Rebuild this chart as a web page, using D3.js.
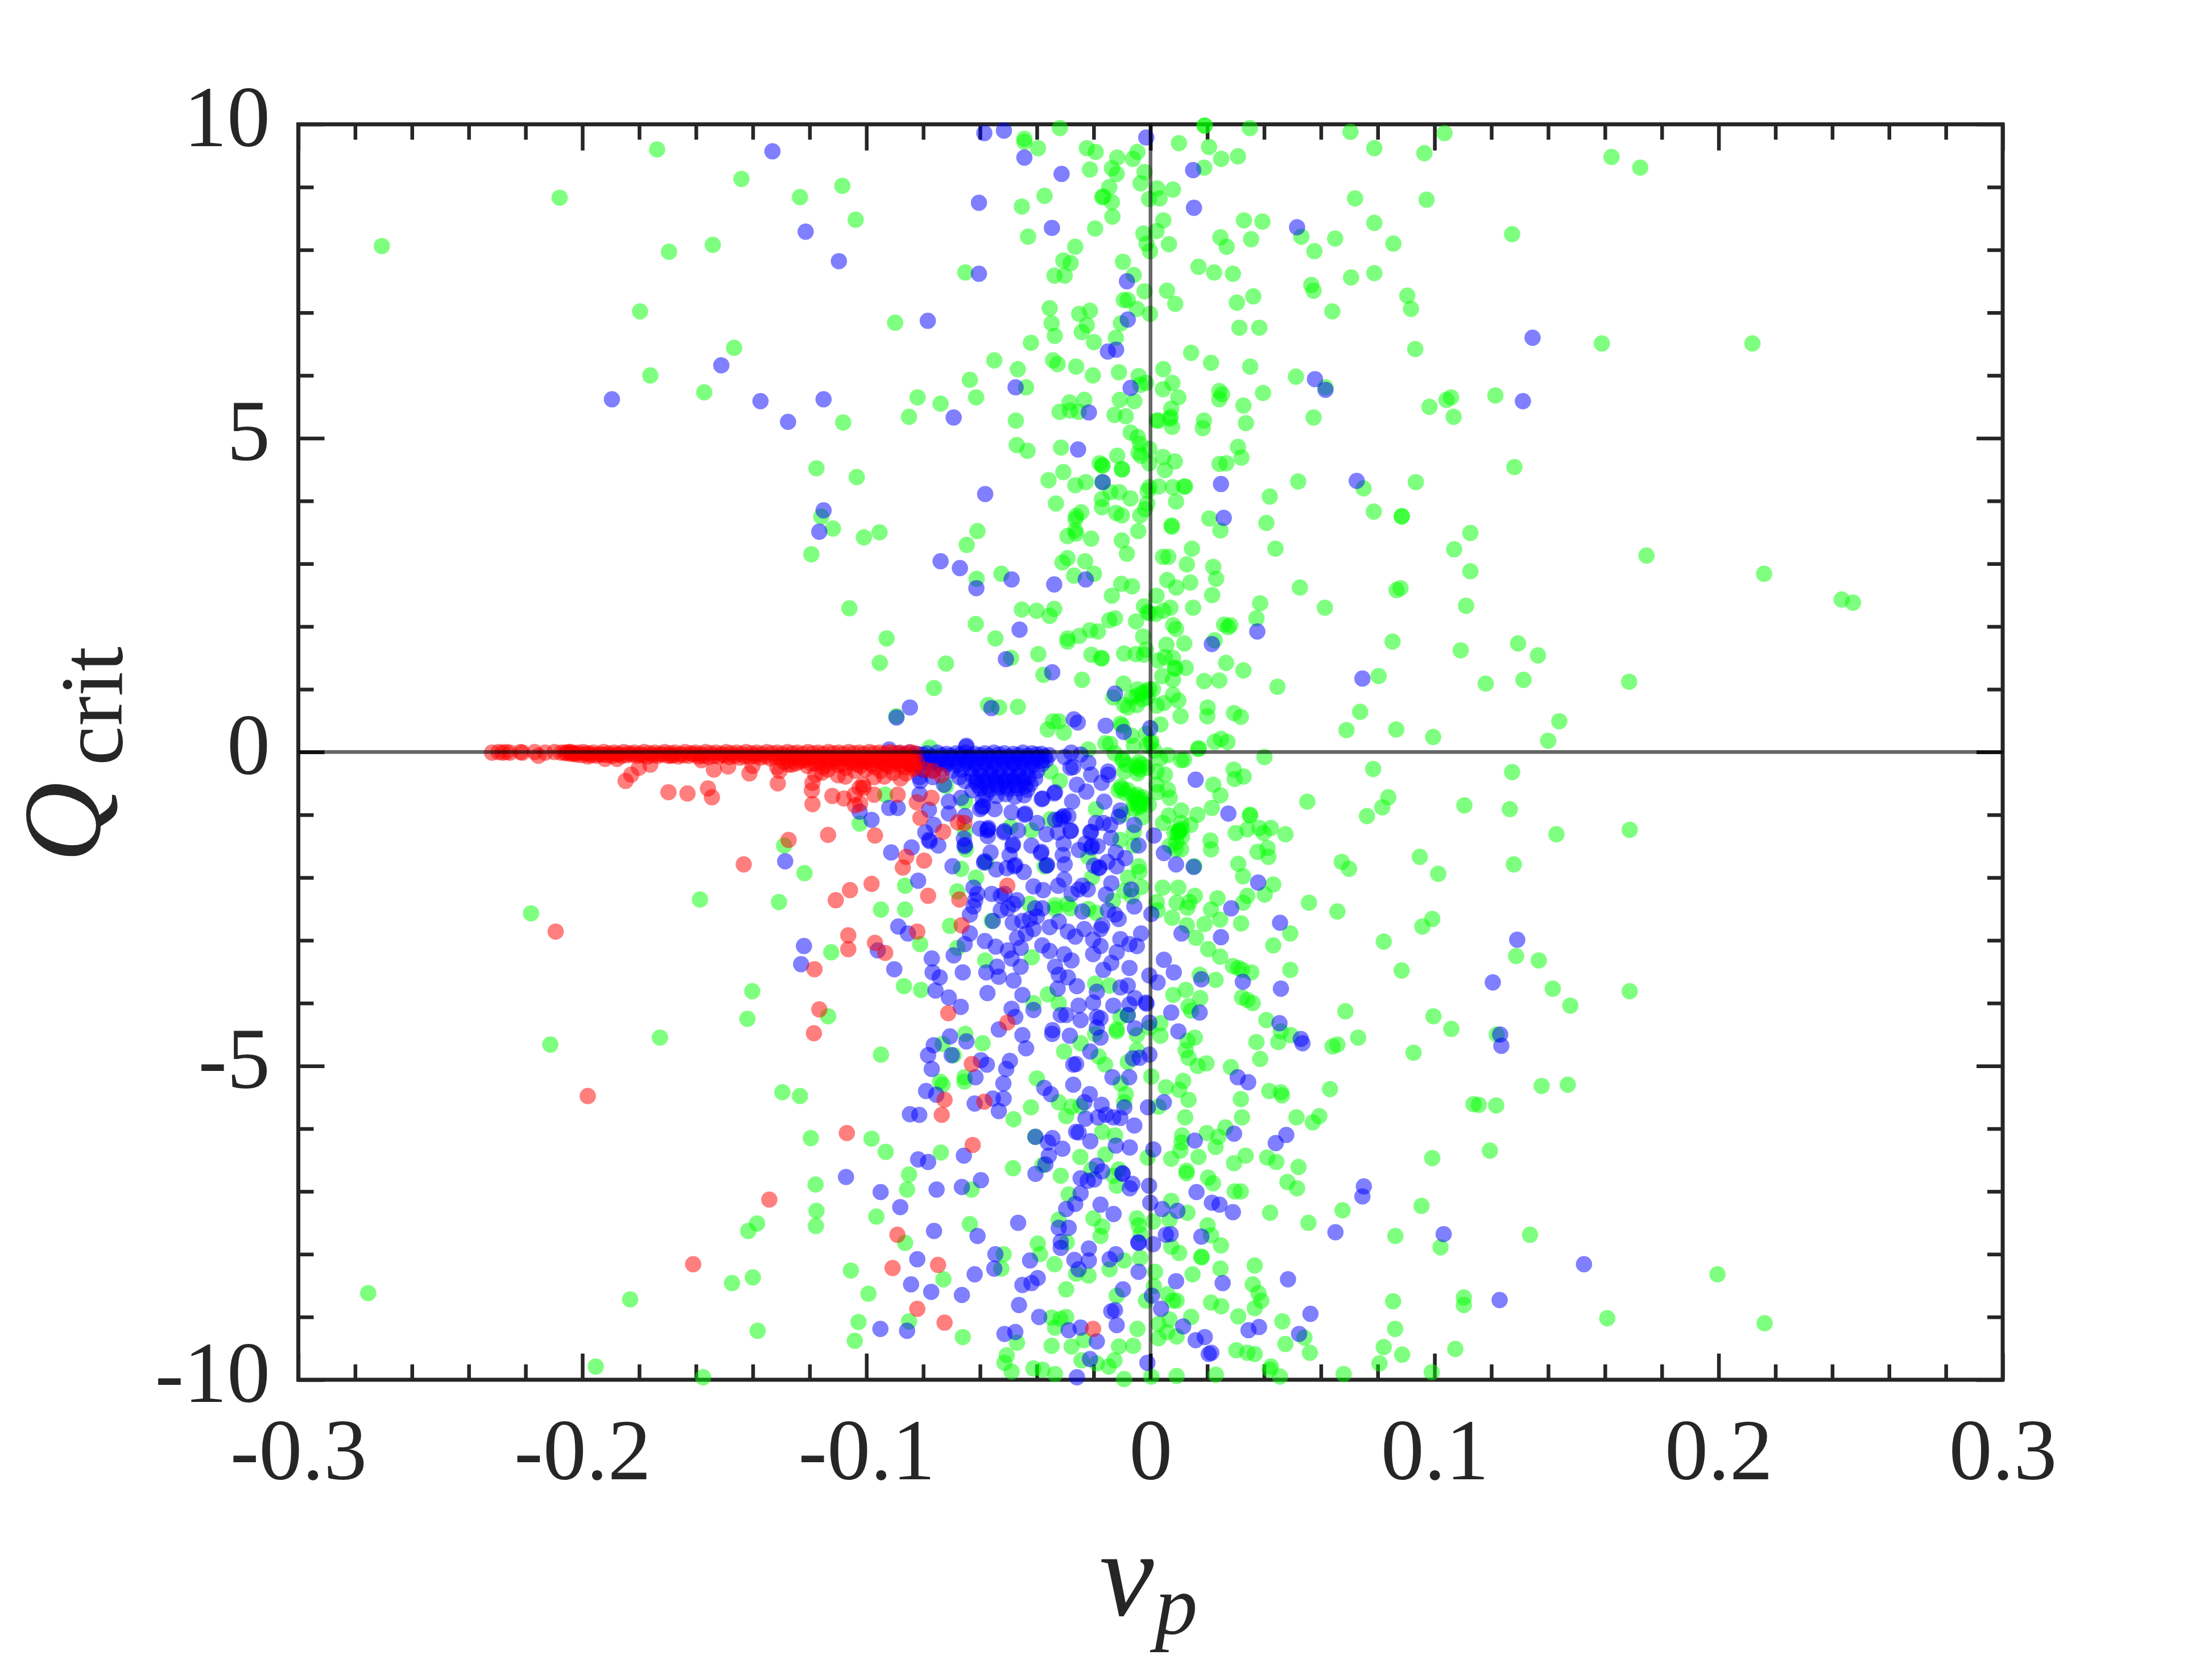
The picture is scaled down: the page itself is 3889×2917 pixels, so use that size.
<!DOCTYPE html>
<html>
<head>
<meta charset="utf-8">
<script src="https://cdn.jsdelivr.net/npm/d3@7"></script>
<style>
  html, body { margin: 0; padding: 0; background: #fff; }
</style>
</head>
<body>
<script>
// tick values and labels
const xMajor = [-0.3, -0.2, -0.1, 0, 0.1, 0.2, 0.3]
const xLabels = ['-0.3', '-0.2', '-0.1', '0', '0.1', '0.2', '0.3']
const xMinor = [-0.28, -0.26, -0.24, -0.22, -0.18, -0.16, -0.14, -0.12, -0.08, -0.06, -0.04, -0.02, 0.02, 0.04, 0.06, 0.08, 0.12, 0.14, 0.16, 0.18, 0.22, 0.24, 0.26, 0.28]
const yMajor = [-10, -5, 0, 5, 10]
const yLabels = ['-10', '-5', '0', '5', '10']
const yMinor = [-9, -8, -7, -6, -4, -3, -2, -1, 1, 2, 3, 4, 6, 7, 8, 9]

// points, [v_p, Q_crit]
const greenPoints = [
  [-0.1737,9.60],[-0.2080,8.83],[-0.2706,8.06],[-0.1440,9.13],[-0.1234,8.84],[-0.1085,9.02],[-0.1038,8.48],[-0.1695,7.97],[-0.1541,8.08],[-0.1797,7.02],
  [-0.0899,6.84],[-0.1466,6.44],[-0.1761,6.00],[-0.1571,5.73],[-0.1082,5.25],[-0.0850,5.34],[-0.1176,4.52],[-0.1034,4.38],[-0.1159,3.75],[-0.1118,3.56],
  [-0.1009,3.42],[-0.0954,3.50],[-0.1194,3.15],[-0.1060,2.29],[-0.0929,1.81],[-0.0953,1.42],[-0.0895,0.57],
  [-0.0319,9.94],[-0.0444,9.77],[-0.0444,9.72],[-0.0396,9.62],[-0.0224,9.62],[-0.0193,9.56],[-0.0117,9.47],[-0.0046,9.56],[-0.0062,9.45],[-0.0213,9.28],
  [-0.0136,9.30],[-0.0119,9.21],[-0.0021,9.24],[-0.0035,9.06],[-0.0145,9.00],[-0.0166,8.85],[-0.0170,8.84],[-0.0136,8.76],[-0.0005,8.81],[0.0032,8.82],
  [0.0023,8.98],[0.0079,8.96],[0.0100,9.70],[0.0190,9.98],[0.0191,9.98],[0.0206,9.64],[0.0249,9.45],[0.0308,9.49],[0.0189,9.31],[0.0350,9.94],[0.0704,9.88],
  [0.0788,9.62],[0.0964,9.54],[0.1035,9.86],[0.0720,8.82],[0.0972,8.80],[-0.0373,8.86],[-0.0453,8.69],[-0.0431,8.21],[-0.0195,8.34],[-0.0134,8.53],
  [0.0045,8.47],[0.0021,8.30],[-0.0025,8.26],[-0.0014,8.10],[-0.0002,7.98],[0.0065,8.09],[-0.0265,8.05],[-0.0307,7.83],[-0.0281,7.79],[-0.0338,7.59],
  [-0.0302,7.59],[-0.0652,7.64],[-0.0097,7.81],[-0.0059,7.60],[-0.0021,7.34],[0.0058,7.35],[0.0087,7.14],[-0.0094,7.20],[-0.0080,7.20],[-0.0048,7.06],
  [-0.0002,6.98],[-0.0104,6.83],[-0.0355,7.07],[-0.0348,6.83],[-0.0251,6.98],[-0.0213,7.03],[-0.0224,6.80],[-0.0242,6.69],[-0.0337,6.63],[-0.0122,6.60],
  [-0.0199,6.53],[-0.0421,6.52],[-0.0550,6.24],[-0.0467,6.10],[-0.0343,6.24],[-0.0327,6.18],[-0.0262,6.14],[-0.0203,6.00],[-0.0111,6.05],[-0.0042,5.99],
  [-0.0016,5.88],[-0.0036,5.85],[-0.0636,5.93],[-0.0438,5.81],[-0.0820,5.65],[-0.0739,5.55],[-0.0614,5.65],[-0.0285,5.57],[-0.0233,5.61],
  [-0.0320,5.42],[-0.0283,5.44],[-0.0253,5.42],[-0.0108,5.61],[-0.0057,5.59],[-0.0127,5.37],[-0.0087,5.35],[-0.0474,5.28],[-0.0070,5.09],[-0.0045,5.02],
  [-0.0037,4.91],[-0.0004,4.83],[-0.0042,4.77],[-0.0034,4.72],[-0.0004,4.60],[-0.0471,4.89],[-0.0433,4.80],[-0.0315,4.85],[-0.0117,4.72],[0.0044,4.70],
  [0.0086,4.63],[0.0051,4.49],[-0.0179,4.60],[-0.0170,4.57],[-0.0169,4.56],[-0.0101,4.51],[-0.0100,4.50],[-0.0307,4.46],[-0.0359,4.33],[-0.0265,4.25],
  [-0.0228,4.30],[-0.0170,4.30],[-0.0110,4.14],[-0.0141,4.14],[-0.0071,4.04],[-0.0004,4.22],[-0.0010,4.16],[0.0029,4.23],[0.0078,4.22],[0.0118,4.23],
  [0.0122,4.23],[0.0090,3.99],[-0.0012,3.96],[-0.0019,3.87],[-0.0036,3.77],[-0.0171,4.03],[-0.0171,3.90],[-0.0333,3.96],[-0.0244,3.82],[-0.0262,3.76],
  [-0.0264,3.71],[-0.0121,3.81],[-0.0101,3.77],[-0.0043,3.52],[0.0074,3.61],[0.0075,3.59],[-0.0265,3.53],[-0.0262,3.48],[-0.0292,3.44],[-0.0209,3.40],
  [-0.0609,3.52],[-0.0647,3.30],[-0.0101,3.37],[-0.0083,3.16],[0.0146,3.24],[0.0044,3.11],[0.0063,3.11],[-0.0292,3.09],[-0.0310,3.02],[-0.0230,3.04],
  [-0.0269,2.81],[-0.0199,2.84],[0.0128,2.99],[0.0221,2.95],[0.0231,2.76],[-0.0612,2.76],[-0.0525,2.84],[-0.0103,2.68],[-0.0065,2.64],[0.0059,2.74],
  [0.0091,2.62],[0.0140,2.70],[-0.0136,2.49],[0.0217,2.50],[0.0021,2.49],[-0.0453,2.27],[-0.0401,2.25],[-0.0355,2.17],[-0.0339,2.28],[-0.0023,2.32],
  [0.0070,2.30],[0.0150,2.30],[-0.0004,2.21],[-0.0010,2.23],[0.0019,2.20],[0.0045,2.25],[-0.0145,2.10],[-0.0125,2.13],[-0.0051,2.08],[-0.0615,2.04],
  [-0.0546,1.81],[-0.0213,1.94],[-0.0185,1.92],[-0.0251,1.85],[-0.0292,1.81],[-0.0292,1.76],[0.0080,2.02],[0.0090,1.96],[-0.0026,1.84],[0.0119,1.73],
  [0.0056,1.71],[-0.0491,1.50],[-0.0395,1.56],[-0.0720,1.41],[-0.0208,1.55],[-0.0173,1.50],[-0.0172,1.49],[-0.0093,1.57],[-0.0052,1.56],[-0.0016,1.63],
  [-0.0023,1.55],[0.0027,1.46],[0.0051,1.51],[0.0079,1.50],[0.0086,1.34],[0.0087,1.33],[0.0124,1.34],[0.0041,1.21],[0.0079,1.15],[0.0266,1.42],[0.0327,1.30],
  [0.0189,1.13],[0.0242,1.14],[0.0447,1.04],[-0.0377,1.23],[-0.0241,1.15],[-0.0762,1.02],[-0.0095,1.09],[-0.0045,1.00],[-0.0067,0.87],[-0.0048,0.90],
  [-0.0029,0.94],[-0.0016,0.97],[-0.0004,1.00],[-0.0010,0.87],[0.0009,1.00],[-0.0029,0.84],[-0.0048,0.75],[-0.0080,0.71],[-0.0093,0.75],[-0.0131,0.87],
  [0.0047,0.78],[0.0079,0.91],[0.0098,0.82],[0.0022,0.74],[0.0035,0.44],[0.0106,0.57],[0.0201,0.71],[0.0200,0.57],[0.0294,0.62],[0.0318,0.56],
  [-0.0572,0.75],[-0.0533,0.71],[-0.0467,0.72],[-0.0343,0.49],[-0.0323,0.49],[-0.0362,0.36],[-0.0305,0.31],[0.0738,0.64],[0.0690,0.35],[0.0865,0.36],
  [0.0995,0.24],[-0.0106,0.45],[-0.0100,0.42],[-0.0067,0.26],[-0.0016,0.29],[0.0003,0.17],[0.0248,0.21],[0.0271,0.16],[0.0226,0.16],[0.0803,1.21],
  [0.0329,8.47],[0.0394,8.45],[0.0246,8.20],[0.0268,8.05],[0.0354,8.17],[0.0169,7.73],[0.0224,7.64],[0.0290,7.62],[0.0304,7.16],[0.0362,7.26],[0.0313,6.76],
  [0.0383,6.76],[0.0531,8.21],[0.0650,8.18],[0.0577,7.98],[0.0788,8.43],[0.0855,8.10],[0.0706,7.56],[0.0788,7.63],[0.0566,7.44],[0.0574,7.35],[0.0640,7.02],
  [0.0904,7.27],[0.0917,7.06],[0.0932,6.42],[0.0143,6.36],[0.0213,6.20],[0.0351,6.14],[0.0045,6.10],[0.0077,5.88],[0.0044,5.78],[0.0098,5.65],[0.0242,5.75],
  [0.0252,5.70],[0.0242,5.62],[0.0396,5.72],[0.0327,5.52],[0.0512,5.98],[0.0616,5.81],[0.0073,5.47],[0.0071,5.34],[0.0076,5.18],[0.0068,5.31],[0.0022,5.28],
  [0.0028,5.28],[0.0188,5.28],[0.0184,5.16],[0.0336,5.24],[0.0574,5.33],[0.0982,5.50],[0.1042,5.61],[0.1058,5.65],[0.1067,5.34],[0.0308,4.86],[0.0320,4.69],
  [0.0243,4.59],[0.0267,4.60],[0.0520,4.31],[0.0934,4.30],[0.0750,4.20],[0.0420,4.07],[0.0786,3.83],[0.0884,3.75],[0.0885,3.76],[0.0408,3.65],[0.0207,3.72],
  [0.0246,3.53],[0.0440,3.24],[0.1126,3.49],[0.1069,3.23],[0.1126,2.88],[0.0526,2.62],[0.0880,2.61],[0.0866,2.58],[0.0614,2.30],[0.1111,2.33],[0.0386,2.37],
  [0.0373,2.13],[0.0259,2.03],[0.0281,2.02],[0.0273,1.99],[0.0226,1.78],[0.0852,1.76],[0.1092,1.62],
  [0.1623,9.48],[0.1724,9.31],[0.1273,8.25],[0.1589,6.51],[0.2119,6.51],[0.1214,5.68],[0.1281,4.54],[0.1746,3.13],[0.2160,2.84],[0.2433,2.43],[0.2473,2.38],
  [0.1294,1.73],[0.1364,1.54],[0.1180,1.09],[0.1313,1.15],[0.1685,1.12],[0.1439,0.49],[0.1400,0.18],
  // far right, below zero
  [0.1273,-0.32],[0.1265,-0.91],[0.1429,-1.31],[0.1687,-1.24],[0.1279,-1.79],[0.1287,-3.25],[0.1367,-3.32],[0.1416,-3.77],[0.1478,-4.04],[0.1687,-3.81],[0.1219,-4.50],
  [0.1377,-5.32],[0.1469,-5.30],[0.1217,-5.63],[0.1156,-5.62],[0.1195,-6.35],[0.1336,-7.69],[0.1996,-8.32],[0.1608,-9.02],[0.2162,-9.10],
  // below the zero line, left part
  [-0.1290,-1.49],[-0.1218,-1.93],[-0.1586,-2.35],[-0.1308,-2.39],[-0.2181,-2.57],[-0.0949,-2.51],[-0.0864,-2.51],[-0.0864,-2.13],[-0.1124,-3.19],[-0.1402,-3.81],
  [-0.1419,-4.25],[-0.1135,-4.21],[-0.1727,-4.55],[-0.2113,-4.66],[-0.0949,-4.82],[-0.0868,-3.73],[-0.1296,-5.42],[-0.1234,-5.48],[-0.1196,-6.15],[-0.0982,-6.16],
  [-0.0932,-6.37],[-0.1179,-6.89],[-0.0850,-6.73],[-0.0857,-6.97],[-0.1176,-7.31],[-0.0965,-7.40],[-0.1178,-7.55],[-0.1385,-7.51],[-0.1416,-7.63],[-0.0864,-7.82],
  [-0.1400,-8.37],[-0.1473,-8.46],[-0.1055,-8.26],[-0.2754,-8.62],[-0.1832,-8.72],[-0.0993,-8.63],[-0.1028,-9.08],[-0.1383,-9.22],[-0.1041,-9.38],[-0.0850,-9.07],
  [-0.1953,-9.79],[-0.1575,-9.96],[-0.0934,-0.68],[-0.1024,-1.14],
  // below the zero line, right part
  [0.0401,-0.08],[0.0170,0.06],[0.0784,-0.27],[0.0293,-0.28],[0.0328,-0.39],[0.0296,-0.43],[0.0221,-0.52],[0.0246,-0.69],[0.0216,-0.89],[0.0552,-0.79],[0.0837,-0.72],
  [0.0816,-0.88],[0.0762,-1.02],[0.1105,-0.85],[0.0350,-1.00],[0.0351,-1.01],[0.0165,-1.00],[0.0300,-1.29],[0.0341,-1.23],[0.0383,-1.21],[0.0398,-1.29],[0.0424,-1.21],
  [0.0475,-1.31],[0.0412,-1.53],[0.0377,-1.59],[0.0415,-1.67],[0.0211,-1.41],[0.0213,-1.55],[0.0309,-1.78],[0.0326,-1.98],[0.0673,-1.75],[0.0699,-1.86],[0.0948,-1.67],
  [0.1013,-1.94],[0.0432,-2.11],[0.0402,-2.27],[0.0341,-2.29],[0.0326,-2.40],[0.0236,-2.33],[0.0213,-2.51],[0.0245,-2.67],[0.0319,-2.73],[0.0558,-2.40],[0.0658,-2.54],
  [0.0957,-2.78],[0.0992,-2.66],[0.0492,-2.89],[0.0432,-3.08],[0.0821,-3.02],[0.0203,-3.14],[0.0245,-3.26],[0.0160,-2.96],[0.0190,-2.74],[0.0128,-2.76],[0.0076,-2.64],
  [0.0043,-2.16],[0.0098,-2.16],[0.0156,-2.29],[0.0137,-2.39],[0.0130,-2.48],[0.0092,-2.40],[0.0022,-2.39],[0.0025,-2.52],[0.0290,-3.41],[0.0309,-3.44],[0.0322,-3.47],
  [0.0355,-3.51],[0.0492,-3.47],[0.0884,-3.48],[0.0229,-3.63],[0.0173,-3.55],[0.0322,-3.91],[0.0341,-3.95],[0.0360,-4.00],[0.0175,-3.92],[0.0124,-3.79],[0.0080,-3.87],
  [0.0134,-4.05],[0.0143,-4.12],[0.0408,-4.27],[0.0459,-4.45],[0.0494,-4.51],[0.0450,-4.62],[0.0373,-4.62],[0.0686,-4.13],[0.0996,-4.21],[0.1059,-4.41],[0.0731,-4.55],
  [0.0641,-4.69],[0.0658,-4.66],[0.0926,-4.79],[0.0386,-4.89],[0.0156,-4.55],[0.0130,-4.60],[0.0124,-4.75],[0.0134,-4.87],[0.0197,-4.96],[0.0166,-5.00],[0.0283,-5.02],
  [0.0003,-5.17],[0.0115,-5.24],[0.0054,-5.34],[0.0101,-5.38],[0.0134,-5.54],[0.0318,-5.53],[0.0418,-5.40],[0.0459,-5.42],[0.0463,-5.47],[0.0632,-5.37],[0.0028,-5.65],
  [0.0122,-5.82],[0.0322,-5.82],[0.0514,-5.82],[0.0571,-5.90],[0.0594,-5.80],[0.1137,-5.61],[0.0264,-5.98],[0.0198,-6.07],[0.0239,-6.13],[0.0229,-6.29],[0.0111,-6.11],
  [0.0109,-6.22],[0.0105,-6.35],[0.0073,-6.48],[0.0169,-6.45],[0.0335,-6.43],[0.0294,-6.55],[0.0411,-6.46],[0.0443,-6.53],[0.0521,-6.61],[0.0992,-6.47],[0.0127,-6.67],
  [0.0127,-6.71],[0.0203,-6.78],[0.0220,-6.87],[0.0482,-6.85],[0.0516,-6.95],[0.0296,-7.00],[0.0318,-7.00],[0.0421,-7.34],[0.0676,-7.30],[0.0954,-7.23],[0.0556,-7.50],
  [0.0073,-7.15],[0.0130,-7.34],[0.0201,-7.54],[0.0213,-7.70],[0.0862,-7.71],[0.1021,-7.89],[0.0248,-7.86],[0.0073,-7.88],[0.0101,-7.98],[0.0179,-8.04],[0.0180,-8.05],
  [0.0367,-8.18],[0.0246,-8.23],[0.0148,-8.32],[0.0360,-8.48],[0.0380,-8.62],[0.0390,-8.74],[0.0367,-8.86],[0.0213,-8.77],[0.0249,-8.83],[0.0854,-8.75],[0.1103,-8.69],
  [0.1103,-8.81],[0.0309,-8.99],[0.0464,-9.07],[0.0861,-9.19],[0.0143,-9.00],[0.0092,-8.74],[0.0079,-8.74],[0.0060,-8.64],[0.0028,-9.11],[0.0067,-9.04],[0.0058,-9.24],
  [0.0092,-9.31],[0.0028,-9.34],[0.0475,-9.43],[0.0542,-9.33],[0.0561,-9.57],[0.0821,-9.48],[0.0886,-9.60],[0.1073,-9.51],[0.0302,-9.53],[0.0341,-9.57],[0.0367,-9.59],
  [0.0424,-9.79],[0.0420,-9.84],[0.0806,-9.74],[0.0456,-9.95],[0.0230,-9.92],[0.0092,-9.94],[0.0003,-9.95],[0.0680,-9.91],[0.0990,-9.88],
  // under and around the blue cloud
  [-0.0046,-9.19],[-0.0061,-9.46],[-0.0111,-9.47],[-0.0127,-9.69],[-0.0147,-9.79],[-0.0093,-9.99],[-0.0278,-9.47],[-0.0234,-9.37],[-0.0348,-9.46],[-0.0336,-9.17],
  [-0.0297,-9.00],[-0.0317,-9.03],[-0.0348,-9.01],[-0.0243,-9.69],[-0.0189,-9.74],[-0.0336,-9.91],[-0.0412,-9.82],[-0.0380,-9.84],[-0.0489,-9.87],[-0.0514,-9.73],
  [-0.0506,-9.61],[-0.0470,-9.41],[-0.0661,-9.32],[-0.0297,-8.56],[-0.0119,-8.66],[-0.0016,-8.74],[0.0016,-8.28],[0.0012,-8.51],[-0.0036,-8.06],[-0.0093,-8.10],
  [-0.0144,-8.24],[-0.0218,-8.34],[-0.0262,-8.31],[-0.0338,-8.16],[-0.0389,-8.00],[-0.0397,-7.83],[-0.0517,-8.00],[-0.0525,-8.23],[-0.0729,-8.40],
  [-0.0323,-7.45],[-0.0295,-7.81],[-0.0201,-7.43],[-0.0170,-7.56],[-0.0176,-7.71],[-0.0048,-7.43],[-0.0042,-7.54],[-0.0035,-7.68],[0.0009,-7.48],[0.0067,-7.45],
  [-0.0636,-7.52],[-0.0630,-6.97],[-0.0484,-6.63],[-0.0316,-6.75],[-0.0247,-6.45],[-0.0159,-6.41],[-0.0738,-6.38],[-0.0406,-6.13],
  [-0.0380,-6.58],[-0.0288,-7.05],[-0.0208,-6.65],[-0.0131,-6.75],[-0.0112,-6.65],[-0.0119,-6.91],[-0.0010,-6.46],[-0.0482,-5.85],[-0.0421,-5.66],[-0.0400,-5.20],
  [-0.0323,-5.58],[-0.0297,-5.80],[-0.0278,-5.65],[-0.0246,-5.64],[-0.0170,-6.05],[-0.0125,-6.11],[-0.0087,-5.45],[-0.0093,-5.58],[-0.0105,-5.28],[-0.0655,-5.18],
  [-0.0655,-5.25],[-0.0732,-5.30],[-0.0741,-5.25],[-0.0591,-4.64],[-0.0652,-4.49],[-0.0732,-4.65],[-0.0693,-4.83],[-0.0304,-4.77],[-0.0246,-4.64],[-0.0183,-4.85],
  [-0.0160,-4.98],[-0.0080,-4.94],[-0.0048,-4.75],[-0.0119,-4.45],[-0.0048,-4.51],[-0.0195,-4.49],[0.0035,-4.52],[-0.0412,-4.00],[-0.0808,-3.79],[-0.0361,-3.86],
  [-0.0323,-4.00],[-0.0195,-3.69],[-0.0144,-3.72],[-0.0106,-4.22],[-0.0080,-4.19],[-0.0119,-4.42],[-0.0004,-4.39],[0.0035,-4.32],[-0.0614,-2.00],
  [-0.0559,-2.69],[-0.0706,-2.77],[-0.0680,-3.12],[-0.0811,-3.06],[-0.0582,-3.32],[-0.0418,-3.27],
  // dense green around the origin
  [-0.0046,-0.25],[-0.0042,-0.16],[-0.0099,-0.13],[-0.0159,0.14],[-0.0142,0.13],[-0.0059,0.10],[-0.0012,0.11],[0.0001,0.14],[0.0014,0.02],[-0.0219,0.04],[-0.0126,-0.02],
  [0.0061,-0.05],[0.0034,-0.10],[0.0108,-0.13],[0.0118,-0.12],[0.0168,0.05],[-0.0092,-0.31],[-0.0012,-0.25],[0.0021,-0.31],[0.0051,-0.36],
  [0.0021,-0.52],[0.0061,-0.60],[0.0024,-0.64],[0.0068,-0.73],[-0.0112,-0.61],[-0.0099,-0.58],[-0.0079,-0.61],[-0.0059,-0.70],[-0.0046,-0.79],[-0.0032,-0.76],
  [-0.0026,-0.82],[-0.0042,-0.88],[-0.0059,-0.82],[-0.0006,-0.84],[-0.0192,-0.91],[-0.0099,-1.00],[-0.0029,-1.04],[0.0108,-0.93],[0.0064,-1.01],[0.0044,-1.13],
  [0.0141,-1.16],[0.0108,-1.13],[0.0101,-1.26],[0.0102,-1.27],[0.0100,-1.25],[0.0084,-1.28],[0.0111,-1.35],
  [0.0091,-1.44],[0.0068,-1.49],[0.0108,-1.55],[0.0088,-1.55],[-0.0352,-1.07],[-0.0352,-0.31],[-0.0319,-0.46],[-0.0493,-1.19],[-0.0419,-1.25],
  [-0.0336,-2.44],[-0.0336,-2.50],[-0.0282,-2.49],[-0.0219,-2.50],[-0.0192,-2.56],[-0.0206,-2.00],[-0.0032,-2.15],
  [-0.0059,-1.28],[-0.0059,-1.49],[-0.0106,-1.40],[-0.0219,-1.67],[-0.0042,-1.82],[-0.0039,-1.91],[-0.0079,-2.00],[-0.0092,-2.21],[-0.0066,-2.30],
  [-0.0132,-2.37],[-0.0293,-2.42],[-0.0426,-2.42],[-0.0373,-1.82],[-0.0579,-1.76],[0.0154,-1.82],[-0.0777,0.07],
  [-0.0667,-1.86],[-0.0653,-0.79],[-0.0720,-0.54],[-0.0653,-1.26],[-0.0650,-1.55],[-0.0680,-2.22],
  [-0.0050,-0.22],[-0.0038,-0.28],[-0.0045,-0.34],[-0.0030,-0.20],[-0.0052,-0.74],[-0.0036,-0.85],[-0.0048,-0.68],[-0.0028,-0.72],[-0.0060,-0.90],[-0.0105,-0.55],
  [-0.0090,-0.65],[-0.0098,-0.10],[-0.0085,-0.20],[0.0095,-1.30],[0.0110,-1.22]
]

const bluePoints = [
  [-0.1331,9.57],[-0.1214,8.29],[-0.1097,7.82],[-0.1511,6.16],[-0.1896,5.62],[-0.1373,5.59],[-0.1151,5.62],[-0.1276,5.26],[-0.1151,3.85],[-0.1166,3.51],[-0.0894,0.55],[-0.0847,0.71],
  [-0.0585,9.86],[-0.0516,9.90],[-0.0444,9.47],[-0.0313,9.21],[-0.0015,9.79],[0.0150,9.27],[-0.0604,8.75],[0.0153,8.67],[-0.0347,8.35],[-0.0604,7.62],[0.0516,8.36],
  [-0.0083,7.50],[-0.0080,6.89],[-0.0784,6.87],[-0.0150,6.38],[-0.0121,6.41],[-0.0475,5.81],[-0.0070,5.80],[0.0579,5.94],[0.0616,5.77],[-0.0693,5.33],[-0.0217,5.41],
  [-0.0255,4.82],[-0.0168,4.30],[-0.0582,4.11],[0.0248,4.27],[0.0726,4.32],[0.0258,3.73],[-0.0739,3.04],[-0.0671,2.93],[-0.0489,2.75],[-0.0613,2.61],[-0.0339,2.67],
  [-0.0228,2.75],[-0.0461,1.95],[-0.0509,1.48],[-0.0346,1.27],[0.0376,1.92],[0.0216,1.72],[0.0746,1.17],[-0.0125,0.93],[-0.0560,0.70],[-0.0270,0.52],
  [-0.0256,0.47],[-0.0158,0.42],[-0.0094,0.32],[-0.0001,0.38],[-0.0648,0.10],[0.1345,6.60],[0.1311,5.59],
  [0.1291,-2.99],[0.1205,-3.67],[0.1231,-4.50],[0.1235,-4.68],[0.1526,-8.16],[0.1229,-8.73],
  [-0.1286,-1.74],[-0.0888,-2.78],[-0.0854,-2.89],[-0.1220,-3.09],
  [-0.0960,-3.16],[-0.1230,-3.38],[-0.0902,-3.46],[-0.0847,-5.77],[-0.1072,-6.77],[-0.0950,-7.01],[-0.0881,-7.25],[-0.0951,-9.19],[-0.0857,-9.22],[-0.0843,-8.48],
  [0.0159,-0.44],[0.0274,-0.98],[0.0012,-1.33],[-0.0042,-1.49],[0.0047,-1.61],[0.0090,-1.79],[0.0152,-1.83],[0.0379,-2.08],[0.0284,-2.49],[0.0456,-2.72],[0.0248,-2.95],
  [0.0109,-2.89],[0.0003,-2.58],[0.0047,-3.31],[0.0082,-3.51],[0.0179,-3.62],[0.0325,-3.66],[0.0459,-3.77],[0.0173,-4.15],[0.0073,-4.15],[-0.0014,-4.01],[-0.0004,-3.56],
  [0.0025,-3.67],[0.0454,-4.32],[0.0529,-4.57],[0.0535,-4.64],[0.0098,-4.45],[-0.0004,-4.31],[-0.0004,-4.82],[-0.0038,-4.87],[-0.0062,-4.88],[-0.0075,-5.18],[-0.0134,-5.18],
  [0.0307,-5.18],[0.0344,-5.26],[0.0047,-5.58],[-0.0009,-5.66],[-0.0057,-5.95],[-0.0092,-5.66],[-0.0106,-5.83],[-0.0131,-5.82],[-0.0157,-5.78],[-0.0172,-5.62],[-0.0185,-5.82],
  [-0.0214,-5.45],[-0.0233,-5.58],[-0.0229,-5.84],[-0.0272,-5.30],[-0.0272,-4.98],[-0.0262,-4.97],[-0.0212,-4.77],[-0.0176,-4.55],[-0.0346,-4.49],[-0.0345,-4.43],[-0.0284,-4.52],
  [-0.0451,-4.51],[-0.0438,-4.72],[-0.0534,-4.42],[-0.0374,-5.35],[-0.0351,-5.45],[-0.0253,-6.06],[-0.0262,-6.05],[-0.0212,-6.20],[-0.0405,-6.13],[-0.0361,-6.22],[-0.0345,-6.15],
  [-0.0310,-6.32],[-0.0358,-6.43],[-0.0370,-6.57],[-0.0405,-6.72],[-0.0122,-6.27],[-0.0073,-6.30],[0.0010,-6.33],[0.0156,-6.19],[0.0294,-6.08],[0.0441,-6.23],[0.0478,-6.10],
  [-0.0189,-6.59],[-0.0170,-6.68],[-0.0198,-6.81],[-0.0246,-6.79],[-0.0221,-6.83],[-0.0099,-6.71],[-0.0098,-6.72],[-0.0064,-6.88],[-0.0073,-6.95],[-0.0005,-6.91],[-0.0246,-7.03],
  [-0.0001,-7.18],[0.0041,-7.28],[0.0095,-7.31],[-0.0176,-7.21],[-0.0130,-7.36],[-0.0265,-7.20],[-0.0297,-7.28],[0.0162,-7.01],[0.0216,-7.18],[0.0243,-7.21],[0.0290,-7.33],
  [0.0751,-6.92],[0.0746,-7.08],[0.0651,-7.65],[0.1032,-7.68],[-0.0466,-7.50],[-0.0762,-7.63],[-0.0609,-7.71],[-0.0323,-7.58],[-0.0288,-7.58],[-0.0316,-7.80],[-0.0316,-7.90],
  [0.0054,-7.69],[0.0071,-7.68],[-0.0043,-7.81],[-0.0042,-7.82],[0.0009,-7.84],[0.0179,-7.72],[-0.0546,-8.00],[-0.0550,-8.23],[-0.0821,-8.08],[-0.0217,-7.91],[-0.0217,-8.10],
  [-0.0268,-8.09],[-0.0253,-8.24],[-0.0144,-8.08],[-0.0122,-8.00],[-0.0424,-8.10],[-0.0619,-8.32],[-0.0772,-8.60],[-0.0664,-8.65],[-0.0397,-8.38],[-0.0419,-8.46],
  [-0.0451,-8.49],[-0.0042,-8.28],[-0.0097,-8.56],[0.0090,-8.43],[0.0254,-8.46],[0.0484,-8.40],[0.0005,-8.66],[0.0037,-8.87],[-0.0138,-8.91],[-0.0125,-8.89],[-0.0463,-8.81],
  [-0.0392,-9.00],[0.0563,-8.95],[-0.0119,-9.13],[0.0115,-9.15],[-0.0288,-9.21],[-0.0246,-9.17],[-0.0189,-9.39],[0.0345,-9.21],[0.0382,-9.16],[0.0523,-9.27],[0.0159,-9.37],
  [0.0191,-9.32],[0.0205,-9.59],[0.0214,-9.57],[-0.0514,-9.27],[-0.0476,-9.24],[-0.0213,-9.67],[-0.0011,-9.73],[-0.0259,-9.96],[-0.0814,-5.78],
  [-0.0619,-5.60],[-0.0555,-5.52],[-0.0517,-5.52],[-0.0534,-5.72],[-0.0518,-5.28],[-0.0790,-5.40],[-0.0754,-5.46],[-0.0770,-5.05],[-0.0783,-4.83],[-0.0763,-4.67],[-0.0706,-4.53],
  [-0.0700,-4.83],[-0.0648,-4.61],[-0.0597,-4.91],[-0.0576,-4.98],[-0.0616,-5.18],[-0.0508,-5.05],[-0.0495,-4.92],[-0.0818,-6.49],[-0.0783,-6.53],[-0.0657,-6.43],[-0.0664,-6.93],
  [-0.0753,-6.97],[-0.0597,-6.82],[-0.0476,-4.22],[-0.0489,-4.09],[-0.0451,-3.87],[-0.0412,-4.11],[-0.0574,-3.84],[-0.0668,-4.06],[-0.0710,-3.91],[-0.0757,-3.80],[-0.0742,-3.59],
  [-0.0767,-3.51],[-0.0661,-3.51],[-0.0770,-3.29],[-0.0693,-3.24],[-0.0654,-3.06],[-0.0583,-3.01],[-0.0545,-3.10],[-0.0502,-3.16],[-0.0457,-3.12],
  [-0.0457,-3.42],[-0.0489,-3.29],[-0.0540,-3.42],[-0.0534,-3.58],[-0.0578,-3.51],[-0.0482,-3.64],[-0.0636,-2.89],[-0.0555,-2.69],[-0.0485,-2.72],[-0.0470,-2.96],[-0.0412,-2.82],
  [-0.0438,-2.89],[-0.0355,-2.79],[-0.0323,-2.70],[-0.0291,-2.86],[-0.0265,-2.94],[-0.0381,-3.08],[-0.0355,-3.17],[-0.0304,-3.22],[-0.0336,-3.42],[-0.0323,-3.55],[-0.0291,-3.59],
  [-0.0278,-3.32],[-0.0259,-3.73],[-0.0327,-3.77],[-0.0202,-3.22],[-0.0176,-3.09],[-0.0233,-2.82],[-0.0202,-2.99],[-0.0170,-2.76],[-0.0119,-3.19],[-0.0138,-3.36],[-0.0166,-3.47],
  [-0.0106,-2.98],[-0.0074,-3.06],[-0.0048,-3.09],[-0.0033,-2.89],[-0.0074,-3.44],[-0.0080,-3.72],[-0.0106,-3.75],[-0.0189,-3.82],[-0.0202,-3.99],[-0.0253,-4.04],[-0.0131,-4.04],
  [-0.0055,-3.92],[-0.0074,-4.02],[-0.0016,-3.99],[-0.0080,-4.19],[-0.0246,-4.27],[-0.0297,-4.19],[-0.0316,-4.19],[-0.0189,-4.22],[-0.0176,-4.24],[-0.0189,-4.39],[-0.0055,-4.40],
  [-0.0559,-2.26],[-0.0527,-2.29],[-0.0514,-2.26],[-0.0610,-2.26],[-0.0623,-2.16],[-0.0617,-2.36],[-0.0636,-2.59],[-0.0623,-2.46],[-0.0527,-2.52],[-0.0502,-2.49],[-0.0482,-2.42],
  [-0.0470,-2.36],[-0.0412,-2.14],[-0.0378,-2.20],[-0.0381,-2.49],[-0.0406,-2.49],[-0.0425,-2.66],[-0.0400,-2.62],[-0.0451,-2.69],[-0.0325,-2.13],[-0.0304,-2.03],[-0.0278,-2.26],
  [-0.0253,-2.19],[-0.0240,-2.13],[-0.0221,-2.19],[-0.0240,-2.54],[-0.0157,-2.27],[-0.0138,-2.09],[-0.0150,-2.52],[-0.0125,-2.59],[-0.0112,-2.66],[-0.0176,-2.82],[-0.0068,-2.19],[-0.0057,-2.46],
  // upper part of the cloud
  [-0.0149,-0.31],[-0.0149,-0.36],[-0.0172,-0.49],[-0.0209,-0.36],[-0.0219,-0.17],[-0.0246,-0.04],[-0.0279,-0.01],[-0.0282,-0.25],[-0.0272,-0.24],[-0.0302,-0.08],[-0.0259,-0.52],
  [-0.0226,-0.63],[-0.0276,-0.79],[-0.0339,-0.66],[-0.0336,-0.64],[-0.0383,-0.75],[-0.0380,-0.74],[-0.0406,-0.42],[-0.0309,-1.04],[-0.0305,-1.02],[-0.0319,-1.07],[-0.0289,-1.02],[-0.0336,-1.08],
  [-0.0282,-1.26],[-0.0280,-1.25],[-0.0326,-1.28],[-0.0366,-1.31],[-0.0306,-1.46],[-0.0212,-1.28],[-0.0209,-1.27],[-0.0166,-1.13],[-0.0142,-1.16],[-0.0192,-1.13],[-0.0139,-1.37],[-0.0209,-1.52],
  [-0.0206,-1.50],[-0.0186,-1.50],[-0.0252,-1.56],[-0.0229,-1.46],[-0.0122,-1.60],[-0.0089,-1.69],[-0.0119,-1.82],[-0.0152,-1.75],[-0.0199,-1.81],[-0.0182,-1.85],[-0.0180,-1.84],
  [-0.0302,-1.79],[-0.0309,-1.64],[-0.0366,-1.81],[-0.0364,-1.80],[-0.0386,-1.61],[-0.0384,-1.59],[-0.0419,-1.49],[-0.0446,-1.91],[-0.0479,-1.82],[-0.0476,-1.80],[-0.0506,-1.85],
  [-0.0543,-1.87],[-0.0586,-1.76],[-0.0584,-1.74],[-0.0563,-1.60],[-0.0486,-1.49],[-0.0484,-1.47],[-0.0496,-1.64],[-0.0516,-1.28],[-0.0514,-1.26],[-0.0573,-1.23],[-0.0571,-1.21],[-0.0574,-1.25],
  [-0.0466,-1.25],[-0.0399,-1.13],[-0.0443,-1.00],[-0.0441,-0.98],[-0.0489,-0.96],[-0.0549,-0.91],[-0.0593,-0.88],[-0.0590,-0.86],[-0.0163,-0.79],[-0.0106,-0.93],[-0.0112,-1.03],[-0.0057,-1.16],
  [-0.0810,-0.46],[-0.0813,-0.67],[-0.0780,-0.92],[-0.0763,-1.16],[-0.0793,-1.28],[-0.0780,-1.40],[-0.0777,-1.42],[-0.0747,-1.49],[-0.0841,-1.52],[-0.0913,-1.60],[-0.0818,-2.05],[-0.0920,-0.89],
  [-0.0890,-0.89],[-0.0982,-1.08],[-0.1024,-0.95],[-0.0710,-0.79],[-0.0710,-0.98],[-0.0667,-0.73],[-0.0653,-1.02],[-0.0657,-1.38],[-0.0655,-1.50],[-0.0653,-1.48],[-0.0697,-1.82],
  [-0.0600,-0.91],[-0.0590,-0.76],[-0.0627,-0.61],[-0.0653,-0.46],[-0.0727,-0.52],[-0.0813,-0.40],[-0.0767,-0.40],[-0.0673,-0.40],
  [-0.0573,-1.34],[-0.0600,-1.22],[-0.0649,0.08],[-0.0920,0.04],
  // solid band just under the zero line
  [-0.0885,-0.02],[-0.0850,-0.01],[-0.0822,-0.03],[-0.0787,-0.02],[-0.0751,-0.01],[-0.0718,-0.03],[-0.0684,-0.02],[-0.0652,-0.01],[-0.0618,-0.03],[-0.0583,-0.02],[-0.0551,-0.01],
  [-0.0515,-0.02],[-0.0483,-0.03],[-0.0449,-0.01],[-0.0417,-0.02],[-0.0384,-0.03],[-0.0357,-0.05],
  [-0.0868,-0.10],[-0.0833,-0.11],[-0.0801,-0.09],[-0.0768,-0.12],[-0.0733,-0.10],[-0.0699,-0.11],[-0.0667,-0.09],[-0.0632,-0.12],[-0.0600,-0.10],[-0.0566,-0.11],[-0.0531,-0.09],
  [-0.0498,-0.12],[-0.0466,-0.10],[-0.0431,-0.11],[-0.0399,-0.09],[-0.0368,-0.13],
  [-0.0848,-0.19],[-0.0816,-0.21],[-0.0782,-0.18],[-0.0749,-0.20],[-0.0716,-0.19],[-0.0681,-0.21],[-0.0648,-0.18],[-0.0616,-0.20],[-0.0582,-0.19],[-0.0549,-0.21],[-0.0516,-0.18],
  [-0.0482,-0.20],[-0.0448,-0.19],[-0.0416,-0.21],[-0.0382,-0.19],
  [-0.0800,-0.28],[-0.0765,-0.29],[-0.0731,-0.27],[-0.0698,-0.30],[-0.0665,-0.28],[-0.0632,-0.27],[-0.0598,-0.30],[-0.0565,-0.28],[-0.0531,-0.29],[-0.0498,-0.27],[-0.0465,-0.30],[-0.0432,-0.28],[-0.0399,-0.30],
  [-0.0870,-0.05],[-0.0838,-0.06],[-0.0803,-0.04],[-0.0770,-0.07],[-0.0735,-0.05],[-0.0703,-0.06],[-0.0668,-0.04],[-0.0636,-0.07],[-0.0601,-0.05],[-0.0569,-0.06],[-0.0534,-0.04],[-0.0500,-0.07],
  [-0.0466,-0.05],[-0.0433,-0.06],[-0.0401,-0.04],[-0.0372,-0.07],
  [-0.0850,-0.15],[-0.0817,-0.16],[-0.0785,-0.14],[-0.0750,-0.17],[-0.0717,-0.15],[-0.0683,-0.16],[-0.0650,-0.14],[-0.0617,-0.17],[-0.0584,-0.15],[-0.0550,-0.16],[-0.0517,-0.14],[-0.0484,-0.17],
  [-0.0450,-0.15],[-0.0418,-0.16],[-0.0385,-0.14],
  [-0.0628,-0.37],[-0.0595,-0.38],[-0.0562,-0.36],[-0.0529,-0.39],[-0.0496,-0.37],[-0.0463,-0.38],[-0.0430,-0.40],
  [-0.0612,-0.42],[-0.0578,-0.43],[-0.0544,-0.41],[-0.0511,-0.44],[-0.0478,-0.42],[-0.0446,-0.43],
  [-0.0615,-0.47],[-0.0582,-0.49],[-0.0549,-0.46],[-0.0516,-0.48],[-0.0483,-0.47],[-0.0450,-0.49],[-0.0423,-0.51],
  [-0.0607,-0.53],[-0.0574,-0.54],[-0.0541,-0.52],[-0.0508,-0.55],[-0.0475,-0.53],[-0.0442,-0.55],
  [-0.0599,-0.58],[-0.0566,-0.60],[-0.0533,-0.57],[-0.0500,-0.59],[-0.0467,-0.58],[-0.0434,-0.60],
  [-0.0580,-0.68],[-0.0543,-0.70],[-0.0510,-0.67],[-0.0478,-0.71],[-0.0445,-0.69]
]

const redPoints = [
  // along the zero line, left end
  [-0.2318,-0.01],[-0.2295,0.00],[-0.2281,-0.01],[-0.2268,0.00],[-0.2255,-0.01],[-0.2218,0.00],[-0.2211,-0.01],[-0.2168,0.00],[-0.2155,-0.06],[-0.2131,-0.01],[-0.2098,0.00],
  [-0.2075,-0.01],[-0.2055,-0.02],[-0.2041,0.00],[-0.2028,-0.02],[-0.1981,-0.07],[-0.1920,-0.11],[-0.1878,-0.11],[-0.1801,-0.25],[-0.1761,-0.20],[-0.1688,-0.06],[-0.1581,-0.13],
  // solid band, upper row
  [-0.2062,-0.01],[-0.2048,0.00],[-0.2031,-0.02],[-0.2015,-0.01],[-0.1996,0.00],[-0.1977,-0.02],[-0.1961,-0.01],[-0.1943,-0.03],[-0.1925,0.00],[-0.1907,-0.02],[-0.1888,-0.01],[-0.1871,-0.03],
  [-0.1854,0.00],[-0.1836,-0.02],[-0.1817,-0.01],[-0.1799,-0.03],[-0.1782,0.00],[-0.1763,-0.02],[-0.1745,-0.01],[-0.1728,-0.03],[-0.1710,0.00],[-0.1691,-0.02],[-0.1674,-0.01],[-0.1655,-0.03],
  [-0.1638,0.00],[-0.1619,-0.02],[-0.1602,-0.01],[-0.1584,-0.03],[-0.1566,0.00],[-0.1548,-0.02],[-0.1530,-0.01],[-0.1511,-0.03],[-0.1494,0.00],[-0.1476,-0.02],[-0.1457,-0.01],[-0.1440,-0.03],
  [-0.1423,0.00],[-0.1404,-0.02],[-0.1386,-0.01],[-0.1368,-0.03],[-0.1350,0.00],[-0.1332,-0.02],[-0.1314,-0.01],[-0.1296,-0.03],[-0.1278,0.00],[-0.1260,-0.02],[-0.1243,-0.01],[-0.1224,-0.03],
  [-0.1206,0.00],[-0.1188,-0.02],[-0.1170,-0.01],[-0.1152,-0.03],[-0.1134,0.00],[-0.1116,-0.02],[-0.1098,-0.01],[-0.1080,-0.03],[-0.1062,0.00],[-0.1044,-0.02],[-0.1026,-0.01],[-0.1008,-0.03],
  [-0.0990,0.00],[-0.0972,-0.02],[-0.0954,-0.01],[-0.0936,-0.03],[-0.0918,0.00],[-0.0900,-0.02],[-0.0882,-0.01],[-0.0864,-0.03],[-0.0846,0.00],[-0.0830,-0.02],
  // solid band, lower row
  [-0.2040,-0.03],[-0.2021,-0.04],[-0.2004,-0.05],[-0.1986,-0.03],[-0.1968,-0.05],[-0.1950,-0.06],[-0.1932,-0.04],[-0.1913,-0.05],[-0.1896,-0.06],[-0.1878,-0.04],[-0.1860,-0.06],[-0.1842,-0.05],
  [-0.1824,-0.04],[-0.1806,-0.06],[-0.1788,-0.05],[-0.1770,-0.07],[-0.1752,-0.05],[-0.1734,-0.06],[-0.1716,-0.04],[-0.1698,-0.06],[-0.1680,-0.05],[-0.1662,-0.07],[-0.1644,-0.05],[-0.1626,-0.06],
  [-0.1608,-0.04],[-0.1590,-0.07],[-0.1572,-0.06],[-0.1554,-0.08],[-0.1536,-0.06],[-0.1518,-0.07],[-0.1500,-0.05],[-0.1482,-0.08],[-0.1464,-0.06],[-0.1446,-0.09],[-0.1428,-0.07],[-0.1410,-0.08],
  [-0.1392,-0.06],[-0.1374,-0.09],[-0.1356,-0.07],[-0.1338,-0.10],[-0.1320,-0.08],[-0.1302,-0.09],[-0.1284,-0.07],[-0.1266,-0.10],[-0.1248,-0.08],[-0.1230,-0.11],[-0.1212,-0.09],[-0.1194,-0.10],
  [-0.1176,-0.08],[-0.1158,-0.11],[-0.1140,-0.09],[-0.1122,-0.12],[-0.1104,-0.10],[-0.1086,-0.11],[-0.1068,-0.09],[-0.1050,-0.12],[-0.1032,-0.10],[-0.1014,-0.13],[-0.0996,-0.11],[-0.0978,-0.12],
  [-0.0960,-0.10],[-0.0942,-0.13],[-0.0924,-0.11],[-0.0906,-0.14],[-0.0888,-0.12],[-0.0870,-0.13],[-0.0852,-0.11],[-0.0836,-0.14],
  // thick right part of the band
  [-0.1290,-0.16],[-0.1262,-0.20],[-0.1233,-0.15],[-0.1208,-0.22],[-0.1180,-0.18],[-0.1152,-0.24],[-0.1127,-0.16],[-0.1100,-0.21],[-0.1073,-0.25],[-0.1048,-0.17],[-0.1020,-0.22],
  [-0.0995,-0.16],[-0.0970,-0.24],[-0.0943,-0.18],[-0.0917,-0.23],[-0.0891,-0.16],[-0.0865,-0.24],[-0.0842,-0.20],[-0.0822,-0.17],
  [-0.1275,-0.14],[-0.1248,-0.18],[-0.1220,-0.13],[-0.1195,-0.18],[-0.1165,-0.15],[-0.1140,-0.20],[-0.1112,-0.14],[-0.1086,-0.19],[-0.1060,-0.15],[-0.1034,-0.20],[-0.1008,-0.15],
  [-0.0982,-0.20],[-0.0956,-0.15],[-0.0930,-0.21],[-0.0904,-0.19],[-0.0878,-0.21],[-0.0850,-0.18],[-0.0832,-0.24],
  [-0.1306,-0.30],[-0.1314,-0.24],[-0.1274,-0.20],[-0.1100,-0.37],[-0.1074,-0.39],[-0.1157,-0.33],[-0.1180,-0.36],[-0.1004,-0.28],[-0.0973,-0.40],[-0.0937,-0.39],[-0.0880,-0.42],[-0.0860,-0.34],
  [-0.1040,-0.30],[-0.0950,-0.30],[-0.0905,-0.33],[-0.1135,-0.28],[-0.0835,-0.27],
  // scattered below the line
  [-0.1848,-0.46],[-0.1828,-0.36],[-0.1697,-0.64],[-0.1630,-0.66],[-0.1558,-0.58],[-0.1544,-0.72],[-0.1537,-0.28],[-0.1487,-0.23],[-0.1412,-0.34],[-0.1401,-0.22],[-0.1312,-0.50],
  [-0.1190,-0.49],[-0.1192,-0.61],[-0.1190,-0.83],[-0.1120,-0.70],[-0.1079,-0.74],[-0.1040,-0.85],[-0.1022,-0.82],[-0.1042,-0.68],[-0.1024,-0.57],[-0.1010,-0.57],[-0.1012,-0.52],
  [-0.0973,-0.68],[-0.0890,-0.68],[-0.0823,-0.80],[-0.0771,-0.73],[-0.0810,-1.05],[-0.0730,-1.27],[-0.0678,-1.12],[-0.0655,-1.13],[-0.1135,-1.32],[-0.0970,-1.33],[-0.0860,-1.67],
  [-0.0797,-1.73],[-0.0872,-1.84],[-0.0982,-2.10],[-0.1058,-2.20],[-0.1108,-2.36],[-0.0783,-2.29],[-0.0673,-2.35],[-0.1274,-1.40],[-0.0793,-0.28],[-0.0767,-0.30],[-0.0737,-0.37],
  [-0.1432,-1.79],[-0.2094,-2.86],[-0.1064,-2.92],[-0.1064,-3.14],[-0.0970,-3.04],[-0.0934,-3.20],[-0.1183,-3.46],[-0.1166,-4.10],[-0.1185,-4.48],[-0.1981,-5.48],[-0.1069,-6.07],
  [-0.1342,-7.13],[-0.0891,-7.69],[-0.1610,-8.16],[-0.0908,-8.22],
  [-0.0504,-2.13],[-0.0665,-2.76],[-0.0821,-2.86],[-0.0712,-4.16],[-0.0504,-4.31],[-0.0629,-4.97],[-0.0725,-5.54],[-0.0585,-5.57],[-0.0735,-5.78],[-0.0626,-6.26],
  [-0.0748,-8.17],[-0.0821,-8.87],[-0.0725,-9.09],[-0.0202,-9.19]
]

const width = 3889
const height = 2917
const margin = { top: 218.6, right: 368, bottom: 491, left: 524.5 }
const innerW = width - margin.left - margin.right
const innerH = height - margin.top - margin.bottom
const ink = '#262626'
const majorLen = 46
const minorLen = 27
const labelFont = '"Liberation Serif", serif'

const x = d3.scaleLinear().domain([-0.3, 0.3]).range([0, innerW])
const y = d3.scaleLinear().domain([-10, 10]).range([innerH, 0])

const svg = d3.select('body')
  .append('svg')
  .attr('width', width)
  .attr('height', height)
  .style('display', 'block')

const g = svg.append('g')
  .attr('transform', `translate(${margin.left}, ${margin.top})`)

function styleAxis(sel, w) {
  sel.selectAll('.domain').remove()
  sel.selectAll('.tick line').attr('stroke', ink).attr('stroke-width', w)
}

// inward ticks on all four sides, minor then major
function addAxis(maker, pos, values, len, labels) {
  const a = maker.tickValues(values).tickSize(-len).tickPadding(0)
  if (labels) a.tickFormat((d, i) => labels[i])
  else a.tickFormat('')
  const sel = g.append('g').attr('transform', pos).call(a)
  styleAxis(sel, 6.5)
  return sel
}

addAxis(d3.axisBottom(x), `translate(0, ${innerH})`, xMinor, minorLen)
addAxis(d3.axisTop(x), 'translate(0, 0)', xMinor, minorLen)
addAxis(d3.axisLeft(y), 'translate(0, 0)', yMinor, minorLen)
addAxis(d3.axisRight(y), `translate(${innerW}, 0)`, yMinor, minorLen)

addAxis(d3.axisTop(x), 'translate(0, 0)', xMajor, majorLen)
addAxis(d3.axisRight(y), `translate(${innerW}, 0)`, yMajor, majorLen)

addAxis(d3.axisBottom(x), `translate(0, ${innerH})`, xMajor, majorLen, xLabels)
  .selectAll('text')
  .attr('y', 175)
  .attr('dy', 0)
  .attr('fill', ink)
  .attr('font-family', labelFont)
  .attr('font-size', 152)

addAxis(d3.axisLeft(y), 'translate(0, 0)', yMajor, majorLen, yLabels)
  .selectAll('text')
  .attr('x', -49.5)
  .attr('y', 38)
  .attr('dy', 0)
  .attr('fill', ink)
  .attr('font-family', labelFont)
  .attr('font-size', 152)

g.append('rect')
  .attr('width', innerW)
  .attr('height', innerH)
  .attr('fill', 'none')
  .attr('stroke', ink)
  .attr('stroke-width', 7)

// green first, red last, as stacked in the picture
const groups = [
  { name: 'green', color: '#00ff00', points: greenPoints },
  { name: 'blue', color: '#0000ff', points: bluePoints },
  { name: 'red', color: '#ff0000', points: redPoints }
]

groups.forEach(s => {
  g.append('g')
    .attr('class', s.name)
    .selectAll('circle')
    .data(s.points)
    .join('circle')
    .attr('cx', d => x(d[0]))
    .attr('cy', d => y(d[1]))
    .attr('r', 14.3)
    .attr('fill', s.color)
    .attr('fill-opacity', 0.5)
})

// zero lines sit over the points
g.append('line')
  .attr('x1', x(-0.3)).attr('x2', x(0.3))
  .attr('y1', y(0)).attr('y2', y(0))
  .attr('stroke', '#000').attr('stroke-opacity', 0.6).attr('stroke-width', 6.5)

g.append('line')
  .attr('x1', x(0)).attr('x2', x(0))
  .attr('y1', y(-10)).attr('y2', y(10))
  .attr('stroke', '#000').attr('stroke-opacity', 0.6).attr('stroke-width', 6.5)

// axis labels
const xTitle = svg.append('text')
  .attr('x', 1933)
  .attr('y', 2840)
  .attr('fill', ink)
  .attr('font-family', labelFont)
  .attr('font-style', 'italic')
  .attr('font-size', 215)
  .text('v')

xTitle.append('tspan')
  .attr('dy', 33)
  .attr('dx', 2)
  .attr('font-size', 150)
  .text('p')

const yTitle = svg.append('text')
  .attr('transform', 'translate(175, 1516) rotate(-90)')
  .attr('fill', ink)
  .attr('font-family', labelFont)
  .attr('font-style', 'italic')
  .attr('font-size', 195)
  .text('Q')

yTitle.append('tspan')
  .attr('dy', 39)
  .attr('dx', 29)
  .attr('font-style', 'normal')
  .attr('font-size', 157)
  .text('crit')
</script>
</body>
</html>
